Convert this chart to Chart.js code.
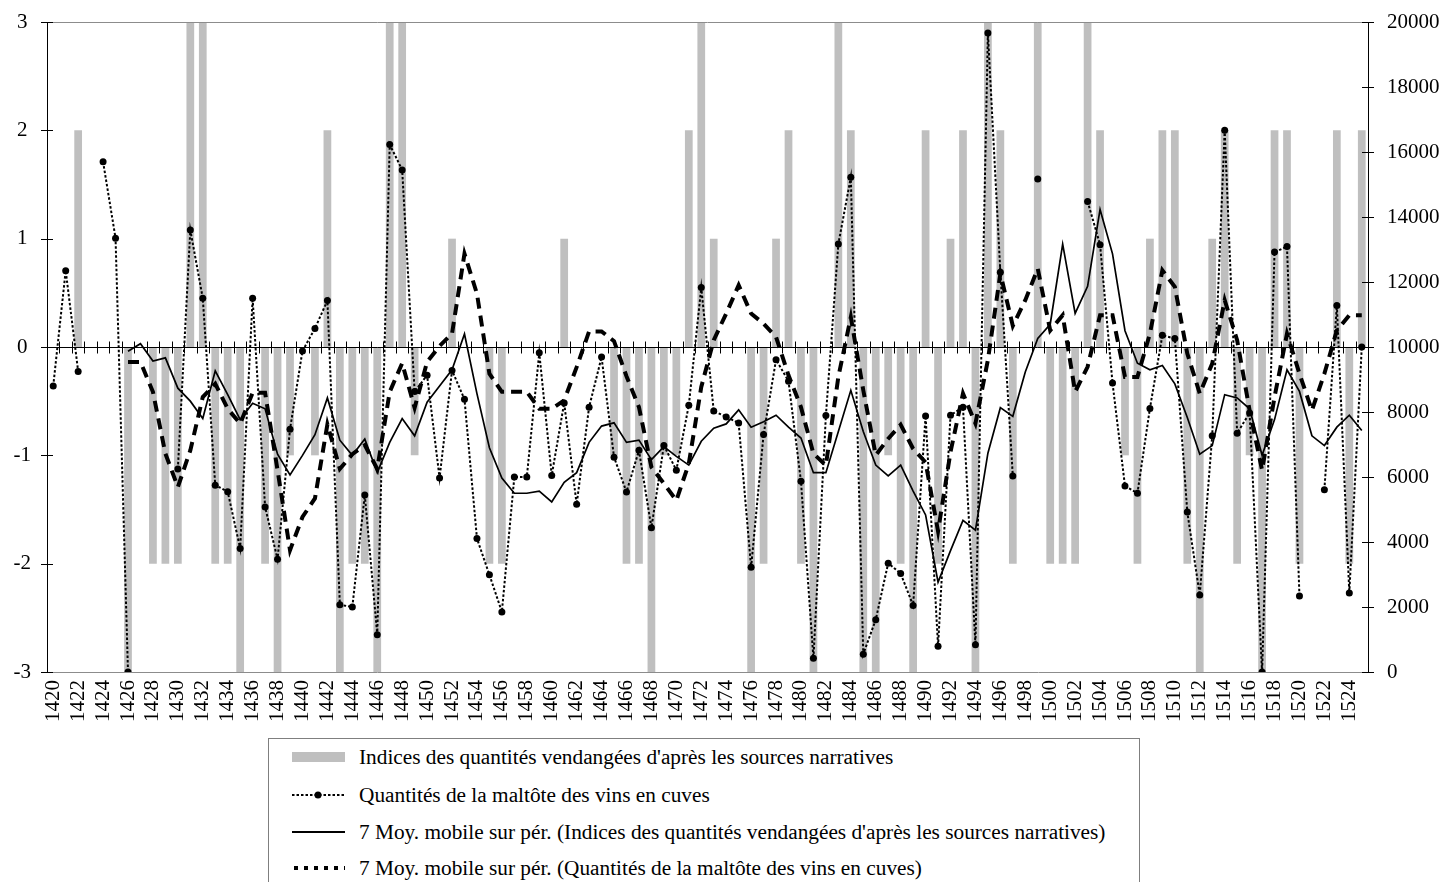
<!DOCTYPE html>
<html>
<head>
<meta charset="utf-8">
<script src="https://cdn.jsdelivr.net/npm/chart.js@4.4.0/dist/chart.umd.min.js"></script>
<style>
    html, body { margin: 0; padding: 0; background: #fff; overflow: hidden; }
    #wrap { position: relative; width: 1445px; height: 882px; }
    #legend {
        position: absolute; left: 268px; top: 738px; width: 872px; height: 170px;
        border: 1px solid #7f7f7f; box-sizing: border-box; background: #fff;
        font-family: "Liberation Serif", "DejaVu Serif", serif; font-size: 21.3px; color: #000;
    }
    .item { position: absolute; left: 0; height: 24px; white-space: nowrap; }
    .item svg { position: absolute; left: 23px; top: 2px; }
    .item span { position: absolute; left: 90px; top: 0; line-height: 24px; }
</style>
</head>
<body>
<div id="wrap">
    <canvas id="chart" width="1445" height="882"></canvas>
    <div id="legend">
        <div class="item" style="top:6px">
            <svg width="56" height="20"><rect x="0" y="5" width="53" height="10" fill="#bfbfbf"/></svg>
            <span>Indices des quantités vendangées d'après les sources narratives</span>
        </div>
        <div class="item" style="top:44px">
            <svg width="56" height="20"><line x1="0" y1="10" x2="53" y2="10" stroke="#000" stroke-width="2" stroke-dasharray="2.5,2"/><circle cx="26" cy="10" r="3.5" fill="#000"/></svg>
            <span>Quantités de la maltôte des vins en cuves</span>
        </div>
        <div class="item" style="top:81px">
            <svg width="56" height="20"><line x1="0" y1="10" x2="53" y2="10" stroke="#000" stroke-width="2"/></svg>
            <span>7 Moy. mobile sur pér. (Indices des quantités vendangées d'après les sources narratives)</span>
        </div>
        <div class="item" style="top:117px">
            <svg width="56" height="20"><line x1="2" y1="10" x2="53" y2="10" stroke="#000" stroke-width="4" stroke-dasharray="4,6"/></svg>
            <span>7 Moy. mobile sur pér. (Quantités de la maltôte des vins en cuves)</span>
        </div>
    </div>
</div>
<script>
// années 1420 - 1525
const years = [
    1420, 1421, 1422, 1423, 1424, 1425, 1426, 1427, 1428, 1429,
    1430, 1431, 1432, 1433, 1434, 1435, 1436, 1437, 1438, 1439,
    1440, 1441, 1442, 1443, 1444, 1445, 1446, 1447, 1448, 1449,
    1450, 1451, 1452, 1453, 1454, 1455, 1456, 1457, 1458, 1459,
    1460, 1461, 1462, 1463, 1464, 1465, 1466, 1467, 1468, 1469,
    1470, 1471, 1472, 1473, 1474, 1475, 1476, 1477, 1478, 1479,
    1480, 1481, 1482, 1483, 1484, 1485, 1486, 1487, 1488, 1489,
    1490, 1491, 1492, 1493, 1494, 1495, 1496, 1497, 1498, 1499,
    1500, 1501, 1502, 1503, 1504, 1505, 1506, 1507, 1508, 1509,
    1510, 1511, 1512, 1513, 1514, 1515, 1516, 1517, 1518, 1519,
    1520, 1521, 1522, 1523, 1524, 1525
];

// indices des sources narratives (axe gauche)
const indices = [
     0,  0,  2,  0,  0,  0, -3,  0, -2, -2,
    -2,  3,  3, -2, -2, -3,  0, -2, -3, -1,
     0, -1,  2, -3, -2, -2, -3,  3,  3, -1,
     0,  0,  1,  0,  0, -2, -2,  0,  0,  0,
     0,  1,  0,  0,  0, -1, -2, -2, -3, -1,
    -1,  2,  3,  1,  0,  0, -3, -2,  1,  2,
    -2, -3,  0,  3,  2, -3, -3, -1, -2, -3,
     2, -2,  1,  2, -3,  3,  2, -2,  0,  3,
    -2, -2, -2,  3,  2,  0, -1, -2,  1,  2,
     2, -2, -3,  1,  2, -2, -1, -3,  2,  2,
    -2,  0,  0,  2, -2,  2
];

// maltôte des vins en cuves (axe droit)
const maltote = [
    8800, 12350, 9250, null, 15700, 13350, 0, null, null, null,
    6250, 13600, 11500, 5750, 5550, 3800, 11500, 5080, 3470, 7470,
    9880, 10570, 11430, 2070, 2000, 5450, 1150, 16230, 15450, 8630,
    9130, 5970, 9280, 8390, 4110, 2990, 1850, 6000, 6000, 9820,
    6050, 8280, 5160, 8150, 9690, 6610, 5540, 6820, 4440, 6970,
    6210, 8210, 11830, 8030, 7850, 7660, 3220, 7310, 9610, 8950,
    5870, 420, 7890, 13170, 15220, 550, 1610, 3350, 3030, 2050,
    7880, 790, 7900, 8150, 840, 19660, 12300, 6030, null, 15170,
    null, null, null, 14480, 13150, 8890, 5720, 5500, 8110, 10360,
    10260, 4920, 2370, 7270, 16670, 7350, 7970, 0, 12920, 13090,
    2340, null, 5610, 11280, 2430, 10000
];

// moyenne mobile sur 7 périodes des indices (axe gauche)
const moyIndices = [
    null, null, null, null, null, null, -0.04, 0.03, -0.13, -0.10,
    -0.38, -0.50, -0.66, -0.22, -0.44, -0.67, -0.52, -0.57, -0.99, -1.18,
    -1.00, -0.81, -0.47, -0.86, -1.00, -0.85, -1.16, -0.88, -0.66, -0.82,
    -0.51, -0.36, -0.21, 0.12, -0.43, -0.93, -1.21, -1.35, -1.35, -1.33,
    -1.43, -1.25, -1.16, -0.88, -0.73, -0.70, -0.88, -0.86, -1.04, -0.92,
    -1.01, -1.09, -0.87, -0.75, -0.71, -0.58, -0.74, -0.69, -0.63, -0.74,
    -0.84, -1.16, -1.16, -0.78, -0.40, -0.78, -1.09, -1.19, -1.09, -1.33,
    -1.55, -2.17, -1.88, -1.60, -1.69, -0.98, -0.56, -0.64, -0.23, 0.08,
    0.21, 0.95, 0.31, 0.56, 1.27, 0.86, 0.15, -0.15, -0.21, -0.17,
    -0.34, -0.65, -0.99, -0.91, -0.44, -0.47, -0.57, -1.00, -0.67, -0.21,
    -0.41, -0.82, -0.91, -0.74, -0.63, -0.77
];

// moyenne mobile sur 7 périodes de la maltôte (axe droit)
const moyMaltote = [
    null, null, null, null, null, null, 9540, 9540, 8620, 6720,
    5690, 6820, 8460, 8870, 8100, 7640, 8590, 8590, 6210, 3750,
    4770, 5340, 7620, 6250, 6700, 6980, 6250, 8620, 9500, 8130,
    9540, 10030, 10410, 12870, 11640, 9180, 8620, 8620, 8620, 8100,
    8100, 8360, 9380, 10480, 10480, 10180, 9100, 8150, 6300, 5800,
    5280, 6410, 8770, 10210, 11030, 11900, 11030, 10720, 10310, 9130,
    8150, 6720, 6360, 9080, 10920, 8670, 6670, 7180, 7610, 6870,
    6450, 4330, 6770, 8570, 7650, 9600, 12260, 10650, 11440, 12410,
    10510, 10980, 8620, 9390, 10980, 10980, 9080, 9080, 10410, 12360,
    11850, 9800, 8570, 9490, 11440, 10210, 8050, 6210, 8460, 10410,
    9180, 8050, 9180, 10510, 10980, 10980
];

const serif = '"Liberation Serif", "DejaVu Serif", serif';
Chart.defaults.font.family = serif;
Chart.defaults.font.size = 21;
Chart.defaults.color = '#000';

// axe des catégories à 0 avec graduations croisées, graduations des axes verticaux
const axisMarks = {
    id: 'axisMarks',
    afterDatasetDraw(chart, args) {
        if (args.index !== 0) return;
        const { ctx, chartArea: a, scales: { y } } = chart;
        const y0 = Math.round(y.getPixelForValue(0)) + 0.5;
        const n = chart.data.labels.length;
        const w = (a.right - a.left) / n;
        ctx.save();
        ctx.strokeStyle = '#000';
        ctx.lineWidth = 1;
        ctx.beginPath();
        ctx.moveTo(a.left, y0);
        ctx.lineTo(a.right, y0);
        for (let i = 1; i < n; i++) {
            const px = Math.round(a.left + i * w) + 0.5;
            ctx.moveTo(px, y0 - 6);
            ctx.lineTo(px, y0 + 6);
        }
        ctx.stroke();
        ctx.restore();
    },
    afterDraw(chart) {
        const { ctx, chartArea: a, scales: { y, y1 } } = chart;
        ctx.save();
        ctx.lineWidth = 1;
        ctx.strokeStyle = '#8c8c8c';
        ctx.beginPath();
        ctx.moveTo(a.left, Math.round(a.top) + 0.5);
        ctx.lineTo(a.right, Math.round(a.top) + 0.5);
        ctx.stroke();
        ctx.strokeStyle = '#000';
        ctx.beginPath();
        y.ticks.forEach(t => {
            const py = Math.round(y.getPixelForValue(t.value)) + 0.5;
            ctx.moveTo(a.left - 6, py);
            ctx.lineTo(a.left + 6, py);
        });
        y1.ticks.forEach(t => {
            const py = Math.round(y1.getPixelForValue(t.value)) + 0.5;
            ctx.moveTo(a.right - 6, py);
            ctx.lineTo(a.right + 6, py);
        });
        ctx.stroke();
        ctx.restore();
    }
};

// largeur fixe des axes verticaux, sans marge haute/basse ajoutée
function fixVertical(width) {
    return s => {
        s.width = width;
        s.paddingTop = 0;
        s.paddingBottom = 0;
    };
}

new Chart(document.getElementById('chart'), {
    data: {
        labels: years,
        datasets: [
            {
                type: 'bar',
                label: "Indices des quantités vendangées d'après les sources narratives",
                data: indices,
                yAxisID: 'y',
                backgroundColor: '#bfbfbf',
                barPercentage: 0.62,
                categoryPercentage: 1,
                order: 4
            },
            {
                type: 'line',
                label: 'Quantités de la maltôte des vins en cuves',
                data: maltote,
                yAxisID: 'y1',
                borderColor: '#000',
                borderWidth: 2,
                borderDash: [2.5, 2],
                pointRadius: 3.5,
                pointBackgroundColor: '#000',
                pointBorderColor: '#000',
                pointBorderWidth: 0,
                spanGaps: false,
                tension: 0,
                order: 1
            },
            {
                type: 'line',
                label: "7 Moy. mobile sur pér. (Indices des quantités vendangées d'après les sources narratives)",
                data: moyIndices,
                yAxisID: 'y',
                borderColor: '#000',
                borderWidth: 1.7,
                pointRadius: 0,
                tension: 0,
                order: 2
            },
            {
                type: 'line',
                label: '7 Moy. mobile sur pér. (Quantités de la maltôte des vins en cuves)',
                data: moyMaltote,
                yAxisID: 'y1',
                borderColor: '#000',
                borderWidth: 4,
                borderDash: [11, 7],
                borderCapStyle: 'butt',
                pointRadius: 0,
                tension: 0,
                order: 3
            }
        ]
    },
    options: {
        responsive: false,
        animation: false,
        layout: { padding: { top: 22 } },
        plugins: {
            legend: { display: false },
            tooltip: { enabled: false }
        },
        scales: {
            x: {
                offset: true,
                grid: { display: false, drawTicks: false },
                border: { display: true, color: '#8c8c8c' },
                ticks: {
                    autoSkip: false,
                    minRotation: 90,
                    maxRotation: 90,
                    padding: 8,
                    callback: (v, i) => (years[i] % 2 === 0 ? String(years[i]) : '')
                },
                afterFit: s => { s.height = 210; }
            },
            y: {
                position: 'left',
                min: -3,
                max: 3,
                grid: { display: false, drawTicks: false },
                border: { display: true, color: '#000' },
                ticks: { stepSize: 1, padding: 16, crossAlign: 'center' },
                afterFit: fixVertical(47)
            },
            y1: {
                position: 'right',
                min: 0,
                max: 20000,
                grid: { display: false, drawTicks: false },
                border: { display: true, color: '#000' },
                ticks: { stepSize: 2000, padding: 19, callback: v => String(v) },
                afterFit: fixVertical(77)
            }
        }
    },
    plugins: [axisMarks]
});
</script>
</body>
</html>
